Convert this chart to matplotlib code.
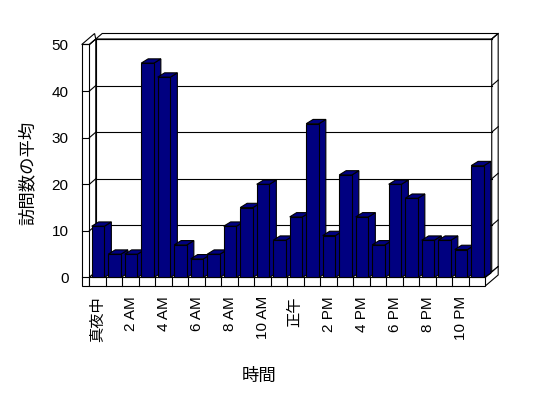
import matplotlib
matplotlib.use("Agg")
from matplotlib import pyplot as plt
from matplotlib.patches import Polygon, Rectangle

plt.rcParams['font.family'] = ['Liberation Sans', 'Noto Sans CJK JP']

# 時間ごとの訪問数の平均
hours = list(range(24))
visits = [11, 5, 5, 46, 43, 7, 4, 5, 11, 15, 20, 8,
          13, 33, 9, 22, 13, 7, 20, 17, 8, 8, 6, 24]
tick_pos = [0.5, 2.5, 4.5, 6.5, 8.5, 10.5, 12.5, 14.5, 16.5, 18.5, 20.5, 22.5]
tick_labels = ['真夜中', '2 AM', '4 AM', '6 AM', '8 AM', '10 AM',
               '正午', '2 PM', '4 PM', '6 PM', '8 PM', '10 PM']
y_ticks = [0, 10, 20, 30, 40, 50]

bar_color = '#000080'
edge = 'black'
lw = 0.8

# 奥行きのずれ（データ単位）
wdx, wdy = 0.39, 1.18   # 壁
bdx, bdy = 0.42, 0.92   # 棒
wall_t = 0.46           # 左の壁の厚さ
floor_t = 1.82          # 床の厚さ
n = len(hours)
ymax = 50

fig = plt.figure(figsize=(5.48, 3.98), dpi=100)
ax = fig.add_axes([0.163, 0.3028, 0.7226, 0.5854])
ax.set_xlim(0, n)
ax.set_ylim(0, ymax)
for s in ax.spines.values():
    s.set_visible(False)


def poly(pts, z, fc='white'):
    ax.add_patch(Polygon(pts, closed=True, fc=fc, ec=edge, lw=lw,
                         zorder=z, clip_on=False))


# 奥の壁（正面、上面、右側面）
poly([(wdx, wdy), (n + wdx, wdy), (n + wdx, ymax + wdy), (wdx, ymax + wdy)], 1)
poly([(wdx, ymax + wdy), (n + wdx, ymax + wdy),
      (n + 2 * wdx, ymax + 2 * wdy), (2 * wdx, ymax + 2 * wdy)], 1)
poly([(n + wdx, wdy), (n + 2 * wdx, 2 * wdy),
      (n + 2 * wdx, ymax + 2 * wdy), (n + wdx, ymax + wdy)], 1)
for v in y_ticks:
    ax.plot([wdx, n + wdx], [v + wdy, v + wdy], color=edge, lw=lw,
            zorder=1.5, clip_on=False)
    ax.plot([n + wdx, n + 2 * wdx], [v + wdy, v + 2 * wdy], color=edge,
            lw=lw, zorder=1.5, clip_on=False)

# 左の壁
poly([(0, 0), (0, ymax), (wdx, ymax + wdy), (wdx, wdy)], 1.6)
poly([(-wall_t, ymax), (0, ymax), (wdx, ymax + wdy),
      (2 * wdx - wall_t, ymax + 2 * wdy)], 1.6)
poly([(-wall_t, -floor_t), (0, -floor_t), (0, ymax), (-wall_t, ymax)], 1.6)
for v in y_ticks:
    ax.plot([0, wdx], [v, v + wdy], color=edge, lw=lw, zorder=1.7,
            clip_on=False)
    ax.plot([-wall_t, 0], [v, v], color=edge, lw=lw, zorder=1.7,
            clip_on=False)

# 床
poly([(0, 0), (n, 0), (n + wdx, wdy), (wdx, wdy)], 1.8)
poly([(n, -floor_t), (n + 2 * wdx, -floor_t + 2 * wdy),
      (n + 2 * wdx, 2 * wdy), (n, 0)], 1.8)
ax.add_patch(Rectangle((0, -floor_t), n, floor_t, fc='white', ec=edge,
                       lw=lw, zorder=1.9, clip_on=False))
for i in range(1, n):
    ax.plot([i, i], [-floor_t, 0], color=edge, lw=lw, zorder=1.95,
            clip_on=False)

# 棒
w = 0.77
off = 0.145
for i, v in zip(hours, visits):
    x0 = i + off
    x1 = x0 + w
    z = 3 + i * 0.01
    poly([(x1, 0), (x1 + bdx, bdy), (x1 + bdx, v + bdy), (x1, v)], z, bar_color)
    poly([(x0, v), (x1, v), (x1 + bdx, v + bdy), (x0 + bdx, v + bdy)], z, bar_color)
    ax.add_patch(Rectangle((x0, 0), w, v, fc=bar_color, ec=edge, lw=lw,
                           zorder=z, clip_on=False))

ax.set_yticks(y_ticks)
ax.set_yticklabels([str(v) for v in y_ticks], fontsize=11)
ax.set_xticks(tick_pos)
ax.set_xticklabels(tick_labels, rotation=90, fontsize=11, va='top')
ax.tick_params(axis='y', length=0, pad=15)
ax.tick_params(axis='x', length=0, pad=13.5)

fig.text(0.473, 0.055, '時間', ha='center', va='center', fontsize=12.5)
fig.text(0.05, 0.565, '訪問数の平均', ha='center', va='center',
         rotation=90, fontsize=12.5)

fig.savefig('out.png', dpi=100, facecolor='white')
